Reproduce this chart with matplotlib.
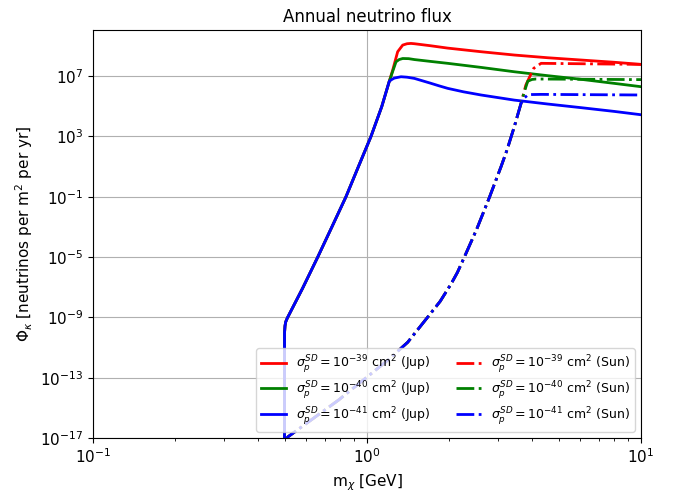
# annual neutrino flux from DM annihilation in Jupiter vs Sun
import numpy as np
from matplotlib import pyplot as plt
from matplotlib.ticker import NullLocator

# dark matter mass [GeV] and log10 flux
# Jupiter: rising part shared by all three cross sections
m_jup_rise = [0.5, 0.5, 0.502, 0.505, 0.512, 0.582, 0.661, 0.745, 0.838, 0.930, 1.034, 1.132, 1.206]
lf_jup_rise = [-18.0, -10.04, -9.57, -9.3, -9.04, -7.07, -5.0, -2.99, -1.0, 0.99, 3.0, 4.98, 6.66]

m_jup_39 = [1.241, 1.294, 1.350, 1.40, 1.447, 1.489, 1.70, 1.970, 2.607, 3.45, 4.57, 6.04, 7.99, 10.0]
lf_jup_39 = [7.40, 8.62, 9.06, 9.15, 9.17, 9.15, 9.02, 8.86, 8.62, 8.40, 8.22, 8.07, 7.92, 7.78]

m_jup_40 = [1.276, 1.31, 1.350, 1.42, 1.489, 1.70, 1.970, 2.607, 3.45, 4.57, 6.04, 7.99, 10.0]
lf_jup_40 = [7.95, 8.10, 8.17, 8.16, 8.10, 7.98, 7.85, 7.58, 7.29, 7.03, 6.79, 6.52, 6.30]

m_jup_41 = [1.232, 1.258, 1.331, 1.40, 1.489, 1.70, 1.83, 1.970, 2.25, 2.607, 3.45, 4.57, 6.04, 7.99, 10.0]
lf_jup_41 = [6.78, 6.87, 6.96, 6.93, 6.85, 6.54, 6.36, 6.19, 5.96, 5.75, 5.41, 5.15, 4.91, 4.66, 4.44]

# Sun: rising part shared by all three cross sections
m_sun_rise = [0.5, 0.514, 0.788, 1.193, 1.408, 1.656, 1.849, 2.026, 2.138, 2.254, 2.512, 2.795,
              3.084, 3.243, 3.45, 3.65]
lf_sun_rise = [-17.4, -16.93, -14.48, -11.83, -10.65, -9.04, -7.94, -6.79, -6.02, -5.1, -3.17, -1.06,
               0.99, 2.10, 3.66, 5.20]

m_sun_39 = [3.80, 3.95, 4.06, 4.23, 4.32, 10.0]
lf_sun_39 = [6.41, 7.07, 7.52, 7.74, 7.85, 7.78]

m_sun_40 = [3.75, 3.86, 4.0, 4.14, 10.0]
lf_sun_40 = [5.95, 6.66, 6.78, 6.81, 6.77]

m_sun_41 = [3.75, 3.86, 4.0, 4.32, 10.0]
lf_sun_41 = [5.55, 5.75, 5.78, 5.79, 5.75]

sigmas = ['39', '40', '41']
colors = ['r', 'g', 'b']

jup = [(m_jup_39, lf_jup_39), (m_jup_40, lf_jup_40), (m_jup_41, lf_jup_41)]
sun = [(m_sun_39, lf_sun_39), (m_sun_40, lf_sun_40), (m_sun_41, lf_sun_41)]

fig = plt.figure(figsize=(6.77, 4.91), dpi=100)
ax = fig.add_axes([0.1374, 0.108, 0.8094, 0.8309])

# jupiter curves
for s, c, (m, lf) in zip(sigmas, colors, jup):
    mm = np.array(m_jup_rise + m)
    ff = 10.0 ** np.array(lf_jup_rise + lf)
    ax.plot(mm, ff, color=c, lw=2,
            label=r'$\sigma_p^{SD} = 10^{-%s}$ cm$^2$ (Jup)' % s)

# sun curves
for s, c, (m, lf) in zip(sigmas, colors, sun):
    mm = np.array(m_sun_rise + m)
    ff = 10.0 ** np.array(lf_sun_rise + lf)
    ax.plot(mm, ff, color=c, lw=2, ls='-.',
            label=r'$\sigma_p^{SD} = 10^{-%s}$ cm$^2$ (Sun)' % s)

ax.set_xscale('log')
ax.set_yscale('log')
ax.set_xlim(0.1, 10)
ax.set_ylim(1e-17, 1.15e10)
ax.set_yticks([1e-17, 1e-13, 1e-9, 1e-5, 1e-1, 1e3, 1e7])
ax.yaxis.set_minor_locator(NullLocator())
ax.grid(True)

ax.set_title('Annual neutrino flux', fontsize=12)
ax.set_xlabel(r'm$_\chi$ [GeV]', fontsize=11)
ax.set_ylabel(r'$\Phi_\kappa$ [neutrinos per m$^2$ per yr]', fontsize=11)
ax.tick_params(labelsize=11)
ax.legend(loc='lower right', ncol=2, fontsize=9, labelspacing=0.3)

plt.savefig('out.png', dpi=100)
